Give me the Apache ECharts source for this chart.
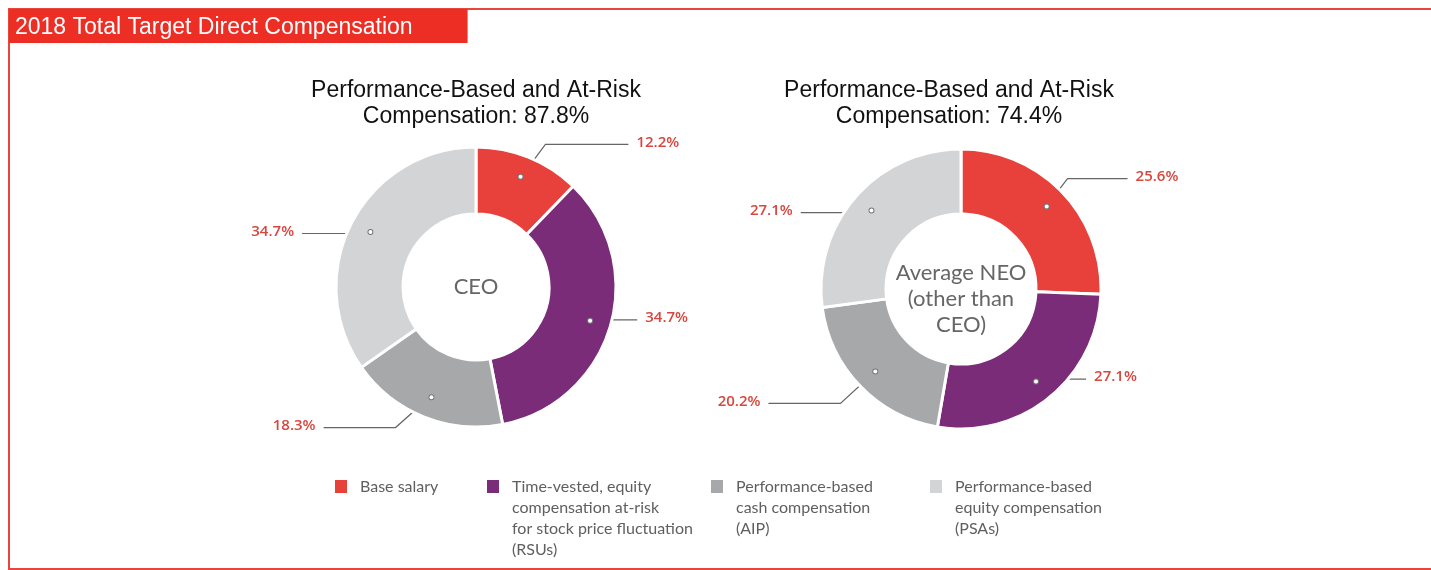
<!DOCTYPE html>
<html>
<head>
<meta charset="utf-8">
<script src="https://cdn.jsdelivr.net/npm/echarts@6/dist/echarts.min.js"></script>
<style>
  html, body { margin: 0; padding: 0; background: #fff; }
  #chart { width: 1431px; height: 570px; }
</style>
</head>
<body>
<div id="chart"></div>
<script>
// data
const headerText = '2018 Total Target Direct Compensation';
const categories = [
  'Base salary',
  'Time-vested, equity\ncompensation at-risk\nfor stock price fluctuation\n(RSUs)',
  'Performance-based\ncash compensation\n(AIP)',
  'Performance-based\nequity compensation\n(PSAs)',
];
const ceoValues = [12.2, 34.7, 18.3, 34.7];
const neoValues = [25.6, 27.1, 20.2, 27.1];
const pieTitles = [
  'Performance-Based and At-Risk\nCompensation: 87.8%',
  'Performance-Based and At-Risk\nCompensation: 74.4%',
];
const centerTexts = ['CEO', 'Average NEO\n(other than\nCEO)'];

const colors = ['#E8403A', '#7A2C78', '#A7A8AA', '#D3D4D6'];
const headerRed = '#EC2E25';
const labelRed = '#D8473F';

// leader line shapes per slice: [elbow dx, elbow dy, horizontal run]
const ceoLegs = [[26, -35, 83], [0, 0, 50], [-37, 33, -72], [0, 0, -71]];
const neoLegs = [[23, -30, 60], [0, 0, 52], [-37, 34, -72], [0, 0, -73]];

const OUTER = 140;
const DOT_R = 116;

const leaderLayout = (cx, cy, legs) => (p) => {
  const pts = p.labelLinePoints;
  if (!pts) return {};
  const vx = pts[0][0] - cx;
  const vy = pts[0][1] - cy;
  const len = Math.sqrt(vx * vx + vy * vy) || 1;
  const dot = [cx + vx / len * DOT_R, cy + vy / len * DOT_R];
  const leg = legs[p.dataIndex];
  const elbow = [dot[0] + leg[0], dot[1] + leg[1]];
  const end = [elbow[0] + leg[2], elbow[1]];
  const right = leg[2] > 0;
  return {
    x: end[0] + (right ? 8 : -8),
    y: end[1] - 2,
    align: right ? 'left' : 'right',
    verticalAlign: 'middle',
    labelLinePoints: [dot, elbow, end],
  };
};

const makeData = (values) => values.map((v, i) => ({
  name: categories[i],
  value: v,
  itemStyle: { color: colors[i] },
}));

const makePie = (values, center, inner, legs) => ({
  type: 'pie',
  center,
  radius: [inner, OUTER],
  startAngle: 90,
  clockwise: true,
  avoidLabelOverlap: false,
  silent: true,
  data: makeData(values),
  itemStyle: { borderColor: '#fff', borderWidth: 3 },
  label: {
    show: true,
    position: 'outside',
    formatter: '{c}%',
    color: labelRed,
    fontFamily: 'Open Sans',
    fontWeight: 600,
    fontSize: 15,
  },
  labelLine: {
    show: true,
    length: 10,
    length2: 10,
    lineStyle: { color: '#666', width: 1.2 },
  },
  labelLayout: leaderLayout(center[0], center[1], legs),
  emphasis: { disabled: true },
});

// invisible copy, only to put the small dots at the start of the leader lines
const makeDots = (values, center) => ({
  type: 'pie',
  center,
  radius: [DOT_R * 2 - OUTER, OUTER],
  startAngle: 90,
  clockwise: true,
  silent: true,
  data: makeData(values).map((d) => ({ ...d, itemStyle: { color: 'rgba(0,0,0,0)' } })),
  label: {
    show: true,
    position: 'inside',
    formatter: '{d| }',
    rich: {
      d: {
        width: 4, height: 4, borderRadius: 3,
        backgroundColor: '#fff', borderColor: '#777', borderWidth: 1,
      },
    },
  },
  labelLine: { show: false },
  emphasis: { disabled: true },
});

const chart = echarts.init(document.getElementById('chart'));

const LINE_H = 21;
const legendLeft = [335, 487, 711, 930];

// square icon sitting on the first text line; tiny corner points stretch the box to the text height
const legendIcon = (lines) => {
  const h = lines * LINE_H;
  return `path://M0,0h0.01v0.01H0z M0,4h12v13H0z M0,${h - 0.01}h0.01v0.01H0z`;
};

const titleFont = {
  color: '#111', fontFamily: 'Liberation Sans', fontSize: 23, fontWeight: 'normal', lineHeight: 26,
};
const centerFont = {
  color: '#666', fontFamily: 'Lato', fontSize: 22, fontWeight: 'normal', lineHeight: 26,
};

const option = {
  animation: false,
  backgroundColor: '#fff',
  graphic: [{
    type: 'rect',
    z: 0,
    shape: { x: 9, y: 9, width: 1460, height: 560 },
    style: { fill: 'none', stroke: '#E8453C', lineWidth: 2 },
  }],
  title: [
    {
      text: headerText,
      left: 9,
      top: 9,
      padding: [6, 55, 2, 6],
      backgroundColor: headerRed,
      textStyle: { ...titleFont, color: '#fff' },
    },
    {
      text: pieTitles[0], left: 476, top: 78, padding: 0, textAlign: 'center', textStyle: titleFont,
    },
    {
      text: pieTitles[1], left: 949, top: 78, padding: 0, textAlign: 'center', textStyle: titleFont,
    },
    {
      text: centerTexts[0], left: 476, top: 274, padding: 0, textAlign: 'center', textStyle: centerFont,
    },
    {
      text: centerTexts[1], left: 961, top: 260, padding: 0, textAlign: 'center', textStyle: centerFont,
    },
  ],
  legend: categories.map((name, i) => {
    const lines = name.split('\n').length;
    return {
      data: [name],
      left: legendLeft[i],
      top: 476,
      padding: 0,
      icon: legendIcon(lines),
      itemWidth: 12,
      itemHeight: lines * LINE_H,
      selectedMode: false,
      itemStyle: { borderWidth: 0 },
      textStyle: {
        color: '#5F5F5F',
        fontFamily: 'Lato',
        fontSize: 16,
        lineHeight: LINE_H,
        padding: [0, 0, 0, 8],
      },
    };
  }),
  series: [
    makePie(ceoValues, [476, 287], 73, ceoLegs),
    makePie(neoValues, [961, 289], 75, neoLegs),
    makeDots(ceoValues, [476, 287]),
    makeDots(neoValues, [961, 289]),
  ],
};

chart.setOption(option);
</script>
</body>
</html>
